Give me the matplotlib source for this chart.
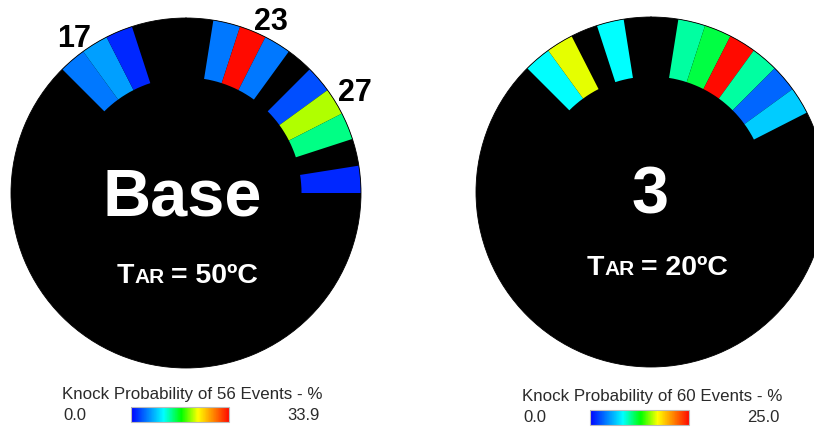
import numpy as np
import matplotlib
matplotlib.use("Agg")
import matplotlib.pyplot as plt
from matplotlib.colors import LinearSegmentedColormap, Normalize
from matplotlib.colorbar import ColorbarBase

plt.rcParams['font.family'] = ['Liberation Sans', 'DejaVu Sans']

# Knock event counts per 9-degree crank sector (40 sectors, clockwise from top)
base_counts = [0, 3, 19, 3, 0, 2, 12, 8, 0, 1,
               0, 0, 0, 0, 0, 0, 0, 0, 0, 0,
               0, 0, 0, 0, 0, 0, 0, 0, 0, 0,
               0, 0, 0, 0, 0, 3, 4, 1, 0, 0]
case3_counts = [0, 6, 7, 15, 6, 2, 4, 0, 0, 0,
                0, 0, 0, 0, 0, 0, 0, 0, 0, 0,
                0, 0, 0, 0, 0, 0, 0, 0, 0, 0,
                0, 0, 0, 0, 0, 5, 10, 0, 5, 0]
base_events = 56
case3_events = 60
panel_names = ["Base", "3"]
panel_temps = ["50ºC", "20ºC"]
base_sector_labels = ["17", "23", "27"]

sector_width_deg = 9.0

cmap = LinearSegmentedColormap.from_list(
    "knock",
    [(0.0, (0.0, 0.0, 1.0)),
     (0.333, (0.0, 1.0, 1.0)),
     (0.514, (0.0, 1.0, 0.0)),
     (0.684, (1.0, 1.0, 0.0)),
     (1.0, (1.0, 0.04, 0.0))])

W, H = 814, 432
fig = plt.figure(figsize=(W / 100, H / 100), dpi=100)
fig.patch.set_facecolor("white")


def polar_panel(cx, cy, radius, counts, events):
    rect = [(cx - radius) / W, (H - cy - radius) / H, 2 * radius / W, 2 * radius / H]
    ax = fig.add_axes(rect, projection="polar")
    ax.set_theta_zero_location("N")
    ax.set_theta_direction(-1)
    ax.set_facecolor("black")
    ax.set_ylim(0, 1)
    ax.set_xticks([])
    ax.set_yticks([])
    ax.grid(False)
    ax.spines["polar"].set_color("black")
    ax.spines["polar"].set_linewidth(0.6)
    prob = np.array(counts, dtype=float) / events * 100.0
    vmax = prob.max()
    norm = Normalize(0, vmax)
    idx = np.nonzero(prob)[0]
    theta = np.deg2rad((idx + 0.5) * sector_width_deg)
    ax.bar(theta, 0.34, width=np.deg2rad(sector_width_deg), bottom=0.66,
           color=cmap(norm(prob[idx])), linewidth=0, align="center")
    return vmax


vmax_base = polar_panel(186, 193, 175, base_counts, base_events)
vmax_case3 = polar_panel(651, 192, 175, case3_counts, case3_events)

# overlay in pixel coordinates for annotations
ov = fig.add_axes([0, 0, 1, 1], zorder=10)
ov.set_xlim(0, W)
ov.set_ylim(H, 0)
ov.axis("off")
ov.patch.set_alpha(0)

renderer = fig.canvas.get_renderer()


def temp_label(xc, yb, temp):
    parts = [("T", 20.5, 0.0), ("AR", 15.0, 0.5), ("= " + temp, 20.5, 6.5)]
    objs = []
    for s, size, gap in parts:
        t = ov.text(0, yb, s, fontsize=size, fontweight="bold", color="white",
                    ha="left", va="baseline")
        objs.append((t, gap))
    widths = [t.get_window_extent(renderer).width for t, _ in objs]
    total = sum(widths) + sum(g for _, g in objs)
    x = xc - total / 2
    for (t, gap), w in zip(objs, widths):
        x += gap
        t.set_x(x)
        x += w


ov.text(182, 199, panel_names[0], fontsize=48, fontweight="bold", color="white",
        ha="center", va="center")
ov.text(650, 196, panel_names[1], fontsize=48, fontweight="bold", color="white",
        ha="center", va="center")
temp_label(187, 283, panel_temps[0])
temp_label(657, 275, panel_temps[1])

for txt, (x, y) in zip(base_sector_labels, [(74, 39), (271, 22), (355, 93)]):
    ov.text(x, y, txt, fontsize=22, fontweight="bold", color="black",
            ha="center", va="center")


def legend_bar(x0, x1, ytitle, ybar, events, vmax, title_x, right_x):
    ov.text(title_x, ytitle, f"Knock Probability of {events} Events - %",
            fontsize=12.2, color="#2a2a2a", ha="left", va="center")
    ov.text(title_x + 1, ybar + 8, "0.0", fontsize=12, color="#2a2a2a",
            ha="left", va="center")
    ov.text(right_x, ybar + 8, f"{vmax:.1f}", fontsize=12, color="#2a2a2a",
            ha="right", va="center")
    cax = fig.add_axes([x0 / W, (H - ybar - 15) / H, (x1 - x0) / W, 15 / H])
    cb = ColorbarBase(cax, cmap=cmap, norm=Normalize(0, vmax),
                      orientation="horizontal")
    cb.set_ticks([])
    cb.outline.set_edgecolor("#bbbbbb")
    cb.outline.set_linewidth(0.8)


legend_bar(131, 229, 395, 407, base_events, vmax_base, 62, 320)
legend_bar(590, 689, 397, 410, case3_events, vmax_case3, 522, 780)

fig.savefig("out.png", dpi=100, facecolor="white")
